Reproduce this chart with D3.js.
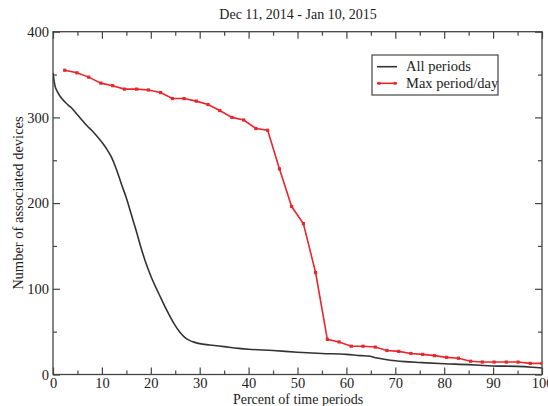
<!DOCTYPE html>
<html><head><meta charset="utf-8">
<script src="https://cdn.jsdelivr.net/npm/d3@7"></script>
<style>
body{margin:0;background:#fff;}
svg text{font-family:"Liberation Serif","DejaVu Serif",serif;fill:#222;}
</style></head>
<body><svg id="c" width="548" height="406"></svg>
<script>
const title = "Dec 11, 2014 - Jan 10, 2015";
const xLabel = "Percent of time periods";
const yLabel = "Number of associated devices";
const seriesNames = ["All periods", "Max period/day"];
const xTicks = [0,10,20,30,40,50,60,70,80,90,100];
const xMinor = [5,15,25,35,45,55,65,75,85,95];
const yTicks = [0,100,200,300,400];
const yMinor = [50,150,250,350];

// All periods (x = percent, y = devices)
const allX = [0,0.4,1,1.8,3,3.8,5,5.9,7,7.9,9,10,11,12,13,14,15,16,17,18,19,20,21,22,23,24,25,26,27,28,29,30,32,35,38,40,45,50,55,60,63,64.5,66,68,70,72,75,80,85,88,90,95,98,100];
const allY = [352,337,329,322,315,311,303,297,290,285,278,271,263,253,239,222,206,187,168,148,130,115,102,90,78,67,57,49,43,39.5,37.5,36,34.5,32.5,30.5,29.5,28,26,24.5,23.5,22,21.5,19.5,17.5,16,15,14,12.5,11.5,10.5,10,9.5,8.5,7.5];

// Max period/day
const maxX = [2.4,4.9,7.3,9.8,12.2,14.6,17.1,19.5,22.0,24.4,26.8,29.3,31.7,34.1,36.6,39.0,41.5,43.9,46.3,48.8,51.2,53.7,56.1,58.5,61.0,63.4,65.9,68.3,70.7,73.2,75.6,78.0,80.5,82.9,85.4,87.8,90.2,92.7,95.1,97.6,100];
const maxY = [355,352,347,340,337,333,333,332,329,322,322,319,315,308,300,297,287,285,240,196,176,119,41,38,33,33,32,28,27,24.5,23.5,22,20,19,15.5,14.5,14.5,14.5,14.5,13,13];

const svg = d3.select("#c");
const L = 53, R = 542, T = 31.7, B = 374.5;
const x = d3.scaleLinear().domain([0,100]).range([L,R]);
const y = d3.scaleLinear().domain([0,400]).range([B,T]);
const frameColor = "#444";

svg.append("defs").append("clipPath").attr("id","clip")
  .append("rect").attr("x",L).attr("y",T).attr("width",R-L).attr("height",B-T);

function styleAxis(g){
  g.select(".domain").remove();
  g.selectAll("line").attr("stroke",frameColor).attr("stroke-width",1.2);
  g.selectAll("text").attr("font-family","Liberation Serif").attr("font-size",14.5).attr("fill","#222");
}

// bottom
svg.append("g").attr("transform",`translate(0,${B})`)
  .call(d3.axisBottom(x).tickValues(xTicks).tickSize(-7).tickPadding(3).tickFormat(d3.format("d"))).call(styleAxis);
svg.append("g").attr("transform",`translate(0,${B})`)
  .call(d3.axisBottom(x).tickValues(xMinor).tickSize(-4).tickFormat("")).call(styleAxis);
// top
svg.append("g").attr("transform",`translate(0,${T})`)
  .call(d3.axisTop(x).tickValues(xTicks).tickSize(-7).tickFormat("")).call(styleAxis);
svg.append("g").attr("transform",`translate(0,${T})`)
  .call(d3.axisTop(x).tickValues(xMinor).tickSize(-4).tickFormat("")).call(styleAxis);
// left
svg.append("g").attr("transform",`translate(${L},0)`)
  .call(d3.axisLeft(y).tickValues(yTicks).tickSize(-7).tickPadding(4).tickFormat(d3.format("d"))).call(styleAxis);
svg.append("g").attr("transform",`translate(${L},0)`)
  .call(d3.axisLeft(y).tickValues(yMinor).tickSize(-4).tickFormat("")).call(styleAxis);
// right
svg.append("g").attr("transform",`translate(${R},0)`)
  .call(d3.axisRight(y).tickValues(yTicks).tickSize(-7).tickFormat("")).call(styleAxis);
svg.append("g").attr("transform",`translate(${R},0)`)
  .call(d3.axisRight(y).tickValues(yMinor).tickSize(-4).tickFormat("")).call(styleAxis);

// frame
svg.append("rect").attr("x",L).attr("y",T).attr("width",R-L).attr("height",B-T)
  .attr("fill","none").attr("stroke",frameColor).attr("stroke-width",1.3);

const allData = allX.map((v,i)=>[v,allY[i]]);
const maxData = maxX.map((v,i)=>[v,maxY[i]]);

const lineSmooth = d3.line().x(d=>x(d[0])).y(d=>y(d[1])).curve(d3.curveMonotoneX);
const lineStraight = d3.line().x(d=>x(d[0])).y(d=>y(d[1]));

const plot = svg.append("g").attr("clip-path","url(#clip)");
plot.append("path").datum(allData).attr("d",lineSmooth)
  .attr("fill","none").attr("stroke","#333").attr("stroke-width",1.6);
plot.append("path").datum(maxData).attr("d",lineStraight)
  .attr("fill","none").attr("stroke","#e8262b").attr("stroke-width",1.6);
plot.selectAll("rect.m").data(maxData).enter().append("rect").attr("class","m")
  .attr("x",d=>x(d[0])-1.6).attr("y",d=>y(d[1])-1.6).attr("width",3.2).attr("height",3.2)
  .attr("fill","#e8262b");

// title & labels
svg.append("text").attr("x",298).attr("y",18.5).attr("text-anchor","middle")
  .attr("font-size",14).text(title);
svg.append("text").attr("x",298).attr("y",403.5).attr("text-anchor","middle")
  .attr("font-size",14).text(xLabel);
svg.append("text").attr("transform",`translate(23,${(T+B)/2}) rotate(-90)`).attr("text-anchor","middle")
  .attr("font-size",14.5).text(yLabel);

// legend
const lg = svg.append("g");
lg.append("rect").attr("x",372).attr("y",55).attr("width",126).attr("height",40)
  .attr("fill","#fff").attr("stroke",frameColor).attr("stroke-width",1.2);
lg.append("line").attr("x1",377).attr("x2",397).attr("y1",66.7).attr("y2",66.7)
  .attr("stroke","#333").attr("stroke-width",1.6);
lg.append("text").attr("x",406).attr("y",71).attr("font-size",14.5).text(seriesNames[0]);
lg.append("line").attr("x1",377).attr("x2",397).attr("y1",83.3).attr("y2",83.3)
  .attr("stroke","#e8262b").attr("stroke-width",1.6);
[379,395].forEach(px=>lg.append("rect").attr("x",px-1.4).attr("y",83.3-1.4).attr("width",2.8).attr("height",2.8).attr("fill","#e8262b"));
lg.append("text").attr("x",406).attr("y",88).attr("font-size",14.5).text(seriesNames[1]);
</script>
</body></html>
